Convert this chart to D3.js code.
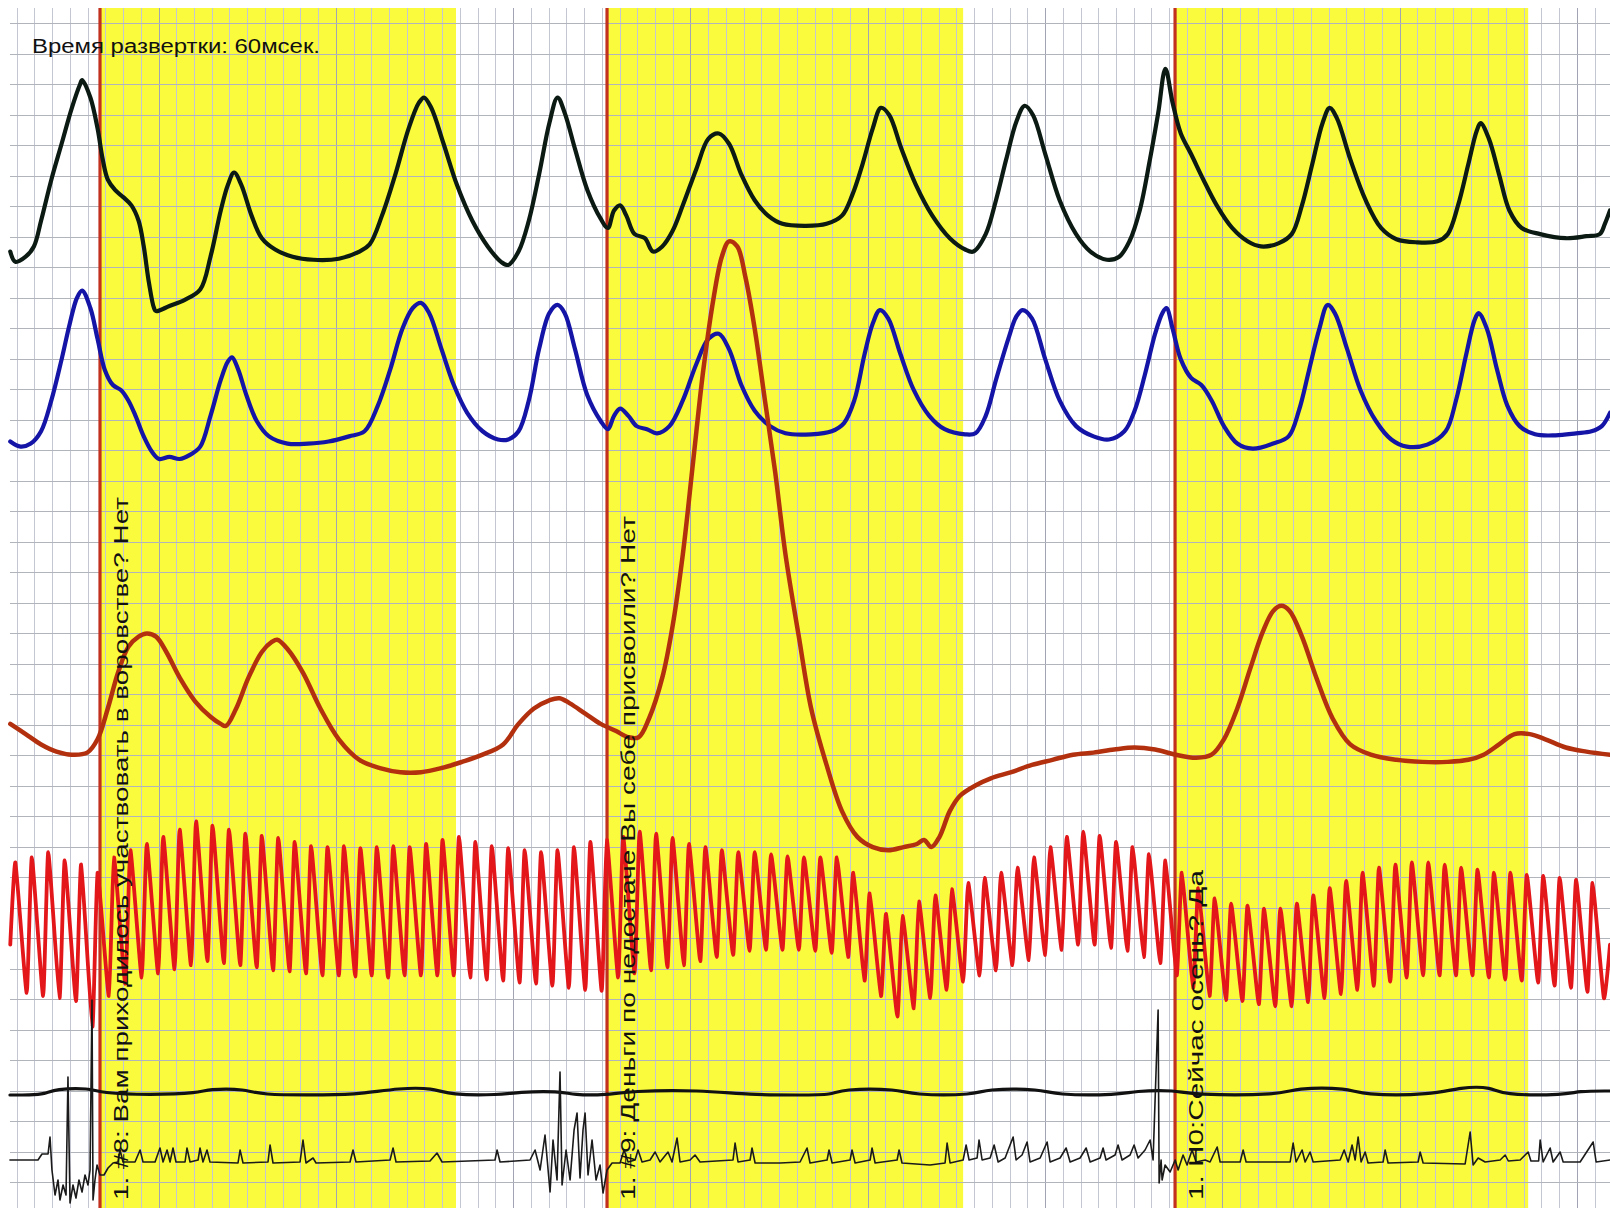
<!DOCTYPE html>
<html><head><meta charset="utf-8">
<script src="https://cdn.jsdelivr.net/npm/d3@7/dist/d3.min.js"></script>
<style>html,body{margin:0;padding:0;background:#fff}svg{display:block}</style>
</head><body>
<svg id="chart" width="1610" height="1208"></svg>
<script>
// ---------------- DATA ----------------
// time in sweep units (t), values per channel in channel units
const sweepLabel = "Время развертки: 60мсек.";
const questionStart = [9.74, 59.12, 114.44];
const questionEnd   = [44.41, 93.80, 148.83];
const questionLabels = [
  "1. #8: Вам приходилось участвовать в воровстве? Нет",
  "1. #9: Деньги по недостаче Вы себе присвоили? Нет",
  "1. Н0:Сейчас осень? Да"
];

const pneumoUpper = [[1.0,75],[1.5,65],[2.5,70],[3.3,80],[4.0,105],[5.0,145],[6.0,180],[7.0,215],[7.8,238],[8.0,242],[8.8,225],[9.5,195],[10.0,165],[10.5,145],[11.2,135],[12.0,128],[12.8,120],[13.5,105],[14.0,80],[14.5,45],[15.0,20],[15.2,17],[16.5,22],[18.0,28],[19.5,38],[20.5,70],[21.5,115],[22.2,140],[22.8,152],[23.5,140],[24.5,110],[25.5,88],[26.8,77],[28.5,70],[30.5,67],[33.0,68],[35.0,75],[36.0,82],[37.2,110],[38.5,150],[39.8,195],[40.8,220],[41.3,225],[42.0,215],[43.2,180],[44.5,140],[46.0,105],[47.5,80],[48.8,65],[49.5,62],[50.5,75],[51.5,105],[52.5,150],[53.5,200],[54.3,225],[55.0,210],[56.0,175],[57.2,135],[58.5,107],[59.2,98],[59.8,115],[60.4,120],[61.0,110],[61.8,92],[62.8,88],[63.6,75],[64.5,80],[65.5,95],[66.5,120],[67.8,155],[69.0,185],[70.0,190],[71.0,180],[72.2,150],[73.5,125],[74.8,110],[76.2,102],[78.5,100],[80.5,102],[82.0,110],[83.0,130],[84.0,160],[85.0,195],[85.8,215],[86.6,208],[87.8,175],[89.2,140],[90.8,110],[92.5,88],[94.0,77],[94.8,75],[96.0,92],[97.0,125],[98.0,165],[99.0,202],[99.8,217],[100.6,208],[101.8,170],[103.2,125],[104.8,92],[106.2,75],[107.8,67],[109.0,70],[110.0,85],[111.0,115],[112.0,165],[112.8,210],[113.5,253],[114.2,220],[115.0,190],[116.0,170],[117.2,145],[118.5,120],[120.0,98],[121.5,85],[122.8,80],[124.5,83],[125.8,92],[126.8,120],[127.8,160],[128.8,200],[129.5,215],[130.2,205],[131.5,165],[133.0,125],[134.5,98],[136.0,87],[138.0,84],[140.0,85],[141.0,92],[142.0,120],[143.0,160],[143.8,192],[144.2,200],[145.0,185],[146.0,150],[147.0,115],[148.2,98],[150.0,92],[152.5,88],[154.5,90],[155.8,92],[156.3,102],[156.8,115]];

const pneumoLower = [[1.0,30],[2.0,25],[3.0,28],[4.0,40],[5.0,70],[6.0,110],[6.8,145],[7.5,170],[8.0,177],[8.8,160],[9.5,130],[10.2,100],[11.0,85],[11.8,80],[12.5,70],[13.2,55],[14.0,35],[14.8,20],[15.5,13],[16.5,15],[17.5,13],[18.5,17],[19.5,25],[20.5,55],[21.5,90],[22.2,108],[22.6,112],[23.2,100],[24.0,75],[25.0,50],[26.2,35],[28.0,28],[30.0,28],[32.0,30],[34.0,35],[35.5,40],[36.8,65],[38.0,100],[39.2,140],[40.2,160],[41.0,165],[41.8,155],[43.0,120],[44.2,85],[45.5,58],[47.0,40],[48.5,32],[49.5,32],[50.5,40],[51.5,70],[52.5,120],[53.5,155],[54.3,163],[55.0,155],[56.0,120],[57.2,75],[58.5,50],[59.2,42],[59.8,55],[60.4,62],[61.2,55],[62.0,45],[63.0,42],[64.0,38],[65.2,45],[66.5,70],[67.8,105],[69.0,130],[70.0,135],[71.0,120],[72.2,85],[73.5,60],[75.0,45],[76.5,38],[79.0,37],[81.0,40],[82.2,48],[83.2,70],[84.2,115],[85.0,145],[85.7,158],[86.5,150],[87.7,115],[89.0,80],[90.5,55],[92.0,42],[94.0,37],[95.0,38],[96.0,55],[97.0,90],[98.2,130],[99.0,152],[99.6,158],[100.5,150],[101.8,110],[103.2,70],[104.8,45],[106.5,35],[108.0,32],[109.5,40],[110.5,60],[111.5,95],[112.5,135],[113.2,155],[113.6,160],[114.2,140],[115.0,110],[116.0,92],[117.0,85],[118.0,70],[119.2,45],[120.5,28],[122.0,23],[124.0,28],[125.5,35],[126.5,60],[127.5,100],[128.5,140],[129.3,163],[130.0,155],[131.2,120],[132.5,80],[134.0,50],[135.5,32],[137.0,25],[139.0,27],[140.8,40],[141.8,70],[142.8,115],[143.6,148],[144.0,155],[144.8,140],[145.8,100],[146.8,65],[148.0,45],[149.5,37],[151.5,36],[153.5,38],[155.0,40],[156.0,45],[156.8,58]];

const gsr = [[1.0,175],[2.5,165],[4.0,155],[5.5,148],[7.0,145],[8.5,147],[9.5,160],[10.5,190],[11.5,225],[12.5,250],[13.5,260],[14.3,263],[15.2,260],[16.2,245],[17.5,220],[19.0,197],[20.5,182],[21.5,175],[22.0,173],[23.0,190],[24.2,220],[25.5,245],[26.5,255],[27.0,257],[28.0,248],[29.5,225],[31.2,190],[33.0,160],[35.0,140],[37.0,132],[39.0,128],[41.0,128],[43.0,132],[45.0,138],[47.0,145],[49.0,155],[50.5,175],[52.0,190],[53.5,198],[54.5,200],[55.5,195],[57.0,185],[58.5,175],[60.0,168],[61.2,162],[62.2,162],[63.2,180],[64.5,220],[65.5,270],[66.5,340],[67.5,430],[68.5,520],[69.5,590],[70.3,630],[71.0,645],[71.8,640],[72.6,610],[73.5,560],[74.5,490],[75.5,420],[76.5,340],[77.8,260],[79.0,190],[80.5,135],[82.0,90],[83.5,65],[85.0,55],[86.5,52],[88.0,55],[89.3,58],[90.0,62],[90.7,55],[91.5,65],[92.5,90],[93.5,105],[95.0,115],[96.5,122],[98.5,128],[100.5,135],[102.5,140],[104.5,145],[106.5,147],[108.5,150],[110.5,152],[112.5,150],[114.5,145],[116.5,142],[118.0,145],[119.2,160],[120.5,190],[121.8,230],[123.0,265],[124.0,285],[124.8,290],[125.6,285],[126.8,260],[128.2,220],[129.8,180],[131.5,155],[133.5,145],[136.0,140],[138.5,138],[141.0,138],[143.0,140],[144.5,145],[146.0,155],[147.5,165],[149.0,165],[150.5,160],[152.5,152],[154.5,148],[156.8,145]];

const cardio = [[1.0,80],[1.5,160],[2.6,33],[3.1,165],[4.2,30],[4.7,170],[5.8,28],[6.3,162],[7.4,25],[7.9,158],[9.0,0],[9.5,150],[10.6,30],[11.1,165],[12.2,42],[12.7,172],[13.8,48],[14.3,178],[15.4,52],[15.9,185],[17.0,56],[17.5,192],[18.6,60],[19.1,200],[20.2,64],[20.7,196],[21.8,62],[22.3,192],[23.4,60],[23.9,188],[25.0,58],[25.5,186],[26.6,55],[27.1,184],[28.2,54],[28.7,180],[29.8,52],[30.3,176],[31.4,50],[31.9,175],[33.0,50],[33.5,176],[34.6,49],[35.1,174],[36.2,50],[36.7,175],[37.8,48],[38.3,176],[39.4,50],[39.9,175],[41.0,50],[41.5,178],[42.6,50],[43.1,182],[44.2,50],[44.7,185],[45.8,48],[46.3,180],[47.4,46],[47.9,176],[49.0,45],[49.5,174],[50.6,43],[51.1,172],[52.2,42],[52.7,170],[53.8,40],[54.3,172],[55.4,38],[55.9,175],[57.0,36],[57.5,180],[58.6,35],[59.1,182],[60.2,48],[60.7,185],[61.8,52],[62.3,190],[63.4,55],[63.9,188],[65.0,58],[65.5,184],[66.6,60],[67.1,178],[68.2,64],[68.7,175],[69.8,68],[70.3,172],[71.4,70],[71.9,170],[73.0,74],[73.5,170],[74.6,75],[75.1,168],[76.2,75],[76.7,166],[77.8,75],[78.3,165],[79.4,74],[79.9,165],[81.0,72],[81.5,165],[82.6,68],[83.1,150],[84.2,45],[84.7,130],[85.8,30],[86.3,110],[87.4,10],[87.9,108],[89.0,18],[89.5,122],[90.6,28],[91.1,128],[92.2,36],[92.7,134],[93.8,44],[94.3,140],[95.4,50],[95.9,145],[97.0,55],[97.5,150],[98.6,60],[99.1,155],[100.2,65],[100.7,165],[101.8,70],[102.3,175],[103.4,75],[103.9,185],[105.0,80],[105.5,190],[106.6,80],[107.1,186],[108.2,77],[108.7,180],[109.8,74],[110.3,175],[111.4,68],[111.9,168],[113.0,62],[113.5,162],[114.6,50],[115.1,150],[116.2,38],[116.7,135],[117.8,30],[118.3,125],[119.4,26],[119.9,120],[121.0,25],[121.5,118],[122.6,22],[123.1,115],[124.2,20],[124.7,115],[125.8,20],[126.3,120],[127.4,24],[127.9,128],[129.0,28],[129.5,135],[130.6,32],[131.1,142],[132.2,36],[132.7,150],[133.8,40],[134.3,155],[135.4,44],[135.9,158],[137.0,48],[137.5,160],[138.6,50],[139.1,160],[140.2,50],[140.7,158],[141.8,50],[142.3,155],[143.4,50],[143.9,153],[145.0,48],[145.5,150],[146.6,46],[147.1,150],[148.2,45],[148.7,148],[149.8,43],[150.3,147],[151.4,40],[151.9,145],[153.0,38],[153.5,143],[154.6,34],[155.1,140],[156.2,28],[156.8,80]];

const tremor = [[0.97,15],[2.92,15],[4.38,16],[5.36,21],[8.77,22],[9.74,17],[14.61,15],[19.48,17],[20.16,21],[24.06,21],[25.03,15],[32.14,15],[35.06,16],[38.96,22],[42.17,22],[43.83,15],[48.70,15],[50.36,18],[54.54,19],[55.81,15],[59.12,15],[61.36,19],[68.18,20],[73.05,15],[77.92,15],[81.13,15],[81.82,21],[87.66,21],[88.63,15],[95.16,15],[95.74,21],[101.59,21],[102.56,15],[109.09,15],[110.35,19],[114.64,20],[115.91,15],[124.96,15],[125.94,22],[131.49,22],[132.46,15],[139.57,15],[142.20,23],[145.42,23],[146.10,15],[152.63,15],[153.60,19],[156.81,19]];

const motion = [[0.97,50],[3.70,50],[4.09,56],[4.68,56],[4.87,73],[5.06,40],[5.36,15],[5.65,30],[5.84,10],[6.14,25],[6.43,15],[6.62,133],[6.82,7],[7.11,25],[7.40,12],[7.69,30],[7.99,18],[8.28,35],[8.57,25],[8.77,40],[8.96,210],[9.06,10],[9.25,30],[9.45,45],[9.74,35],[10.13,35],[10.52,42],[11.01,47],[11.49,48],[11.69,60],[11.98,48],[13.15,48],[13.64,60],[13.93,48],[15.10,48],[15.58,62],[15.88,48],[16.27,60],[16.56,48],[16.85,62],[17.14,48],[18.02,48],[18.21,62],[18.51,48],[19.29,50],[19.48,62],[19.77,48],[20.16,60],[20.45,48],[23.18,47],[23.38,60],[23.67,47],[26.10,48],[26.30,65],[26.59,47],[29.22,48],[29.51,70],[29.80,47],[30.49,52],[30.78,47],[34.09,48],[34.38,60],[34.67,48],[37.99,50],[38.28,62],[38.57,48],[41.88,49],[42.56,57],[43.05,48],[48.21,50],[48.41,60],[48.70,48],[51.62,50],[52.11,60],[52.60,40],[53.08,75],[53.57,18],[53.86,70],[54.25,30],[54.54,138],[54.74,25],[55.13,60],[55.52,30],[55.91,80],[56.20,97],[56.49,32],[56.78,80],[56.98,97],[57.27,35],[57.66,70],[58.05,30],[58.44,45],[58.73,17],[59.12,40],[59.61,47],[60.39,47],[60.78,60],[61.17,48],[61.85,50],[62.14,60],[62.53,48],[63.31,50],[63.80,58],[64.28,48],[65.06,58],[65.45,48],[65.94,72],[66.23,48],[67.21,50],[67.69,55],[68.18,48],[71.39,50],[71.59,67],[71.88,48],[73.05,50],[73.24,62],[73.54,47],[75.97,47],[77.92,48],[78.60,62],[78.89,47],[80.55,50],[80.74,60],[81.04,47],[82.79,50],[82.98,60],[83.28,47],[84.74,50],[84.93,62],[85.23,47],[87.37,50],[87.56,60],[87.85,47],[90.58,45],[92.04,47],[92.24,67],[92.53,47],[93.80,50],[94.09,65],[94.38,50],[95.16,52],[95.35,70],[95.65,50],[96.43,52],[96.82,65],[97.21,48],[97.89,52],[98.67,73],[98.96,50],[99.54,55],[100.03,68],[100.32,48],[101.30,52],[101.98,68],[102.27,48],[103.24,52],[103.83,62],[104.22,48],[105.19,52],[105.78,62],[106.17,48],[107.14,52],[107.43,62],[107.72,50],[108.60,55],[108.89,65],[109.28,50],[110.06,55],[110.45,65],[110.84,52],[111.52,60],[112.01,70],[112.30,50],[112.79,200],[112.89,27],[113.08,50],[113.18,30],[113.47,45],[113.96,38],[114.45,50],[114.74,40],[115.22,55],[115.61,45],[116.10,60],[116.49,48],[117.37,50],[117.85,48],[118.54,63],[118.83,48],[120.78,48],[121.07,60],[121.36,48],[125.65,48],[125.94,67],[126.23,48],[126.81,60],[127.11,48],[127.59,58],[127.89,48],[130.52,50],[130.91,60],[131.30,48],[131.68,65],[131.98,50],[132.27,73],[132.56,48],[132.95,58],[133.24,47],[134.70,48],[134.90,60],[135.19,47],[138.11,48],[138.31,58],[138.60,47],[142.69,46],[143.18,78],[143.47,45],[143.96,52],[144.64,48],[146.10,50],[146.59,55],[146.9,49],[148.05,50],[148.83,58],[149.1,49],[149.85,49],[150.00,70],[150.29,48],[150.97,62],[151.26,48],[151.94,58],[152.24,48],[153.89,48],[155.16,68],[155.45,48],[156.81,50]];

// ---------------- LAYOUT ----------------
(function () {
const W = 1610, H = 1208;
const S = 1610 / 1568;
const svg = d3.select("#chart");
const x = d3.scaleLinear().domain([0, 156.8]).range([0, W]);

const channels = [
  {data: pneumoUpper, y: d3.scaleLinear().domain([0, 320]).range([320*S, 0]), color: "#0b1a12", width: 4.2, curve: d3.curveCatmullRom},
  {data: pneumoLower, y: d3.scaleLinear().domain([0, 460]).range([460*S, 0]), color: "#1414a6", width: 4.2, curve: d3.curveCatmullRom},
  {data: gsr,         y: d3.scaleLinear().domain([0, 880]).range([880*S, 0]), color: "#b3300f", width: 4.5, curve: d3.curveCatmullRom},
  {data: cardio,      y: d3.scaleLinear().domain([0, 1000]).range([1000*S, 0]), color: "#e3161a", width: 3.8, curve: d3.curveCardinal.tension(0.55)},
  {data: tremor,      y: d3.scaleLinear().domain([0, 1110]).range([1110, 0]), color: "#111111", width: 3.2, curve: d3.curveBasis},
  {data: motion,      y: d3.scaleLinear().domain([0, 1210]).range([1210, 0]), color: "#1a1a1a", width: 1.6, curve: d3.curveLinear}
];

svg.append("rect").attr("width", W).attr("height", H).attr("fill", "#ffffff");

const plotTop = 8, plotLeft = 10;
svg.append("g").selectAll("rect").data(questionStart).join("rect")
  .attr("x", (d) => x(d)).attr("y", plotTop)
  .attr("width", (d, i) => x(questionEnd[i]) - x(d)).attr("height", H - plotTop)
  .attr("fill", "#fbfb3e");

const grid = svg.append("g").attr("shape-rendering", "crispEdges");
const vStep = 17.73, vStart = 16.7;
d3.range(0, 90).forEach(k => {
  const gx = Math.round(vStart + k * vStep) + 0.5;
  grid.append("line").attr("x1", gx).attr("x2", gx).attr("y1", plotTop).attr("y2", H)
    .attr("stroke", k % 10 === 8 ? "#a2a4b4" : "#c4c6d2").attr("stroke-width", 1);
});
const hStep = 30.5, hStart = 23;
d3.range(0, 39).forEach(k => {
  const gy = Math.round(hStart + k * hStep) + 0.5;
  grid.append("line").attr("x1", plotLeft).attr("x2", W).attr("y1", gy).attr("y2", gy)
    .attr("stroke", "#b2b4bc").attr("stroke-width", 1);
});

svg.append("g").selectAll("line").data(questionStart).join("line")
  .attr("x1", (d) => x(d)).attr("x2", (d) => x(d)).attr("y1", plotTop).attr("y2", H)
  .attr("stroke", "#c2301e").attr("stroke-width", 3.2);

channels.forEach(ch => {
  const line = d3.line().x(d => x(d[0])).y(d => ch.y(d[1])).curve(ch.curve);
  svg.append("path").datum(ch.data).attr("d", line)
    .attr("fill", "none").attr("stroke", ch.color).attr("stroke-width", ch.width)
    .attr("stroke-linejoin", "round").attr("stroke-linecap", "round");
});

const labelLen = [703, 684, 330];
svg.append("g").selectAll("text").data(questionLabels).join("text")
  .attr("transform", (d, i) => `translate(${x(questionStart[i]) + 28},1200) rotate(-90)`)
  .attr("font-family", "'Liberation Sans', Arial, sans-serif")
  .attr("font-size", 21).attr("fill", "#111")
  .attr("textLength", (d, i) => labelLen[i]).attr("lengthAdjust", "spacingAndGlyphs")
  .text(d => d);

svg.append("text").attr("x", 32).attr("y", 53)
  .attr("font-family", "'Liberation Sans', Arial, sans-serif").attr("font-size", 20)
  .attr("fill", "#111").attr("textLength", 288).attr("lengthAdjust", "spacingAndGlyphs")
  .text(sweepLabel);
})();
</script>
</body></html>
